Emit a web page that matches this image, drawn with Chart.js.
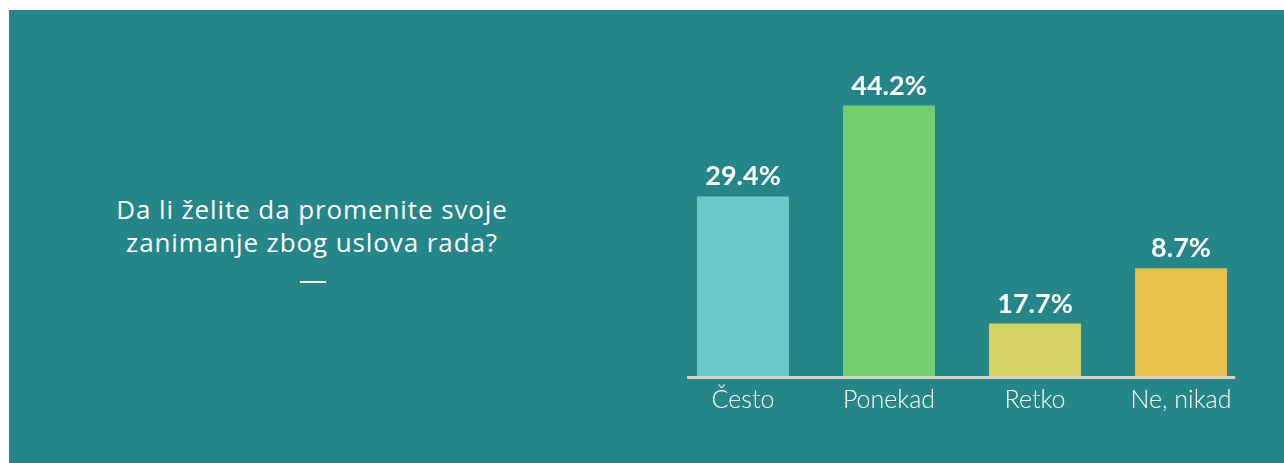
<!DOCTYPE html>
<html>
<head>
<meta charset="utf-8">
<script src="https://cdn.jsdelivr.net/npm/chart.js@4"></script>
<style>
  html, body { margin: 0; padding: 0; background: #ffffff; }
  #panel {
    position: absolute; left: 9px; top: 10px; width: 1275px; height: 453px;
    background: #25868a; overflow: hidden;
  }
  #question {
    position: absolute; left: 83px; top: 183px; width: 440px;
    color: #ffffff; font-family: "Open Sans", sans-serif; font-size: 26px;
    letter-spacing: 0.9px; line-height: 33px; text-align: center;
  }
  #dash {
    position: absolute; left: 291px; top: 271px; width: 26px; height: 2px; background: #ffffff;
  }
  #chartBox { position: absolute; left: 0; top: 0; width: 1275px; height: 453px; }
</style>
</head>
<body>
<div id="panel">
  <div id="question">Da li želite da promenite svoje<br>zanimanje zbog uslova rada?</div>
  <div id="dash"></div>
  <div id="chartBox"><canvas id="surveyChart"></canvas></div>
</div>
<script>
// answers and values
const answers = ["Često", "Ponekad", "Retko", "Ne, nikad"];
// bar heights as drawn in the reference (the last two bars are drawn swapped vs. their labels)
const barValues = [29.4, 44.2, 8.7, 17.7];
// percentages printed above the bars
const printedValues = [29.4, 44.2, 17.7, 8.7];
const barColors = ["#6dc8c8", "#72cf6e", "#d4d263", "#e8c04a"];

const topLabels = {
  id: "topLabels",
  afterDatasetsDraw(chart) {
    const ctx = chart.ctx;
    const meta = chart.getDatasetMeta(0);
    ctx.save();
    ctx.fillStyle = "#ffffff";
    ctx.font = "bold 27px Lato, sans-serif";
    ctx.textAlign = "center";
    ctx.textBaseline = "alphabetic";
    meta.data.forEach((bar, i) => {
      ctx.fillText(printedValues[i].toFixed(1) + "%", bar.x, bar.y - 11);
    });
    ctx.restore();
  }
};

const baseLine = {
  id: "baseLine",
  afterDatasetsDraw(chart) {
    const ctx = chart.ctx;
    const a = chart.chartArea;
    ctx.save();
    ctx.fillStyle = "#e6cfc4";
    ctx.fillRect(a.left + 17, a.bottom - 1, a.right - a.left - 36, 3);
    ctx.restore();
  }
};

new Chart(document.getElementById("surveyChart"), {
  type: "bar",
  data: {
    labels: answers,
    datasets: [{
      data: barValues,
      backgroundColor: barColors,
      borderWidth: 0,
      barPercentage: 0.63,
      categoryPercentage: 1
    }]
  },
  options: {
    responsive: true,
    maintainAspectRatio: false,
    animation: false,
    layout: { padding: { left: 661, right: 30, top: 60, bottom: 0 } },
    plugins: { legend: { display: false }, tooltip: { enabled: false } },
    scales: {
      y: { display: false, min: 0, max: 50 },
      x: {
        grid: { display: false, drawTicks: false },
        border: { display: false },
        ticks: {
          color: "#ffffff",
          padding: 8,
          font: { family: "Lato", size: 25, weight: "300" }
        },
        afterFit(scale) { scale.height = 86; }
      }
    }
  },
  plugins: [topLabels, baseLine]
});
</script>
</body>
</html>
